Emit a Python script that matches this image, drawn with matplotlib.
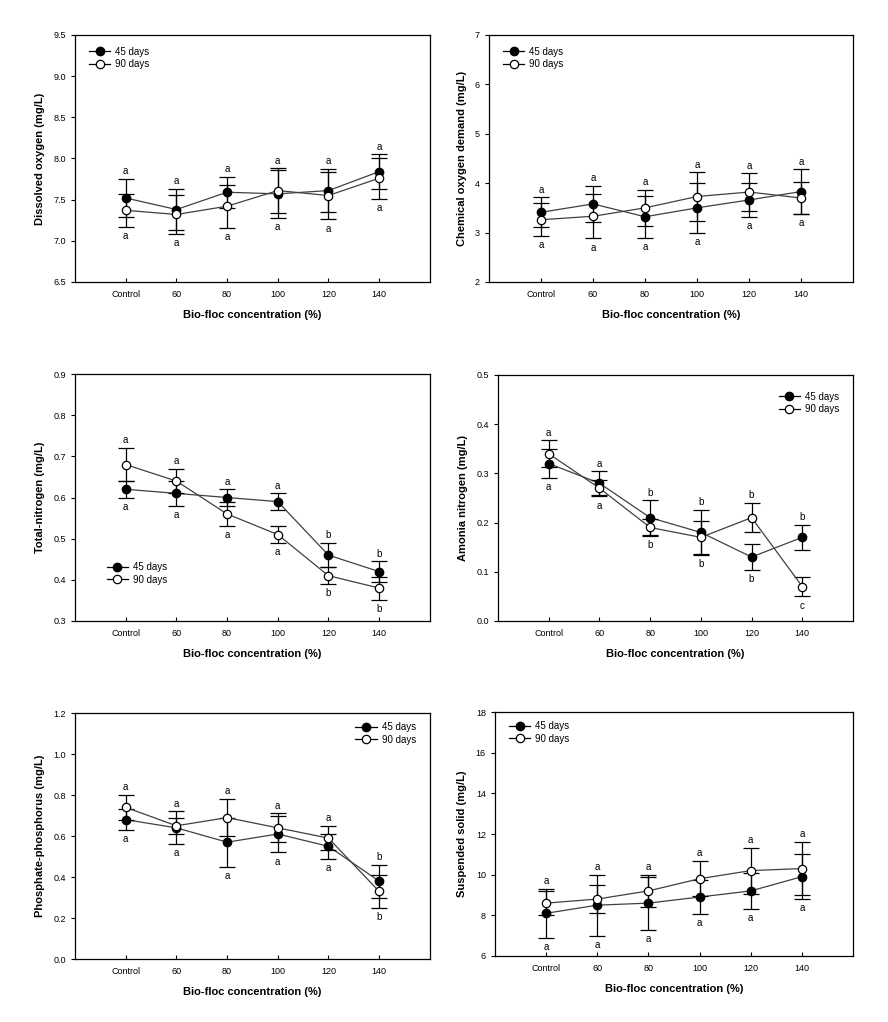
import numpy as np
from matplotlib import pyplot as plt
from matplotlib.lines import Line2D

plt.rcParams['font.family'] = ['Liberation Sans', 'DejaVu Sans']

cats = ['Control', '60', '80', '100', '120', '140']

# dissolved oxygen
do_45 = [7.52, 7.38, 7.59, 7.57, 7.61, 7.84]
do_45_err = [0.23, 0.25, 0.19, 0.29, 0.26, 0.21]
do_90 = [7.37, 7.32, 7.42, 7.61, 7.55, 7.76]
do_90_err = [0.20, 0.24, 0.26, 0.27, 0.29, 0.25]
do_top = ['a', 'a', 'a', 'a', 'a', 'a']
do_bot = ['a', 'a', 'a', 'a', 'a', 'a']

# chemical oxygen demand
cod_45 = [3.41, 3.58, 3.32, 3.50, 3.66, 3.83]
cod_45_err = [0.30, 0.36, 0.42, 0.50, 0.34, 0.45]
cod_90 = [3.26, 3.33, 3.50, 3.73, 3.82, 3.70]
cod_90_err = [0.33, 0.45, 0.36, 0.49, 0.38, 0.33]
cod_top = ['a', 'a', 'a', 'a', 'a', 'a']
cod_bot = ['a', 'a', 'a', 'a', 'a', 'a']

# total nitrogen
tn_45 = [0.62, 0.61, 0.60, 0.59, 0.46, 0.42]
tn_45_err = [0.02, 0.03, 0.02, 0.02, 0.03, 0.025]
tn_90 = [0.68, 0.64, 0.56, 0.51, 0.41, 0.38]
tn_90_err = [0.04, 0.03, 0.03, 0.02, 0.02, 0.028]
tn_top = ['a', 'a', 'a', 'a', 'b', 'b']
tn_bot = ['a', 'a', 'a', 'a', 'b', 'b']

# ammonia nitrogen
an_45 = [0.32, 0.28, 0.21, 0.18, 0.13, 0.17]
an_45_err = [0.03, 0.024, 0.035, 0.045, 0.027, 0.025]
an_90 = [0.34, 0.27, 0.19, 0.17, 0.21, 0.07]
an_90_err = [0.027, 0.017, 0.017, 0.033, 0.03, 0.02]
an_top = ['a', 'a', 'b', 'b', 'b', 'b']
an_bot = ['a', 'a', 'b', 'b', 'b', 'c']

# phosphate-phosphorus
ph_45 = [0.68, 0.64, 0.57, 0.61, 0.55, 0.38]
ph_45_err = [0.05, 0.08, 0.12, 0.09, 0.06, 0.08]
ph_90 = [0.74, 0.65, 0.69, 0.64, 0.59, 0.33]
ph_90_err = [0.06, 0.04, 0.09, 0.07, 0.06, 0.08]
ph_top = ['a', 'a', 'a', 'a', 'a', 'b']
ph_bot = ['a', 'a', 'a', 'a', 'a', 'b']

# suspended solid
ss_45 = [8.1, 8.5, 8.6, 8.9, 9.2, 9.9]
ss_45_err = [1.2, 1.5, 1.3, 0.83, 0.87, 1.1]
ss_90 = [8.6, 8.8, 9.2, 9.8, 10.2, 10.3]
ss_90_err = [0.6, 0.7, 0.8, 0.87, 1.13, 1.3]
ss_top = ['a', 'a', 'a', 'a', 'a', 'a']
ss_bot = ['a', 'a', 'a', 'a', 'a', 'a']


def panel(rect, y45, e45, y90, e90, top, bot, ylab, ylim, yticks, yfmt, legloc, legbox):
  ax = fig.add_axes(rect)
  x = np.arange(len(cats))
  ax.errorbar(x, y45, yerr=e45, color='#404040', lw=0.9, ecolor='k', elinewidth=0.9,
              capsize=6, capthick=0.9, marker='o', ms=6, mfc='k', mec='k', zorder=3)
  ax.errorbar(x, y90, yerr=e90, color='#404040', lw=0.9, ecolor='k', elinewidth=0.9,
              capsize=6, capthick=0.9, marker='o', ms=6, mfc='white', mec='k', mew=0.9,
              zorder=4)
  hi = np.maximum(np.array(y45) + np.array(e45), np.array(y90) + np.array(e90))
  lo = np.minimum(np.array(y45) - np.array(e45), np.array(y90) - np.array(e90))
  for i in range(len(cats)):
    ax.annotate(top[i], (x[i], hi[i]), xytext=(0, 2), textcoords='offset points',
                ha='center', va='bottom', fontsize=7)
    ax.annotate(bot[i], (x[i], lo[i]), xytext=(0, -3), textcoords='offset points',
                ha='center', va='top', fontsize=7)
  ax.set_xlim(-1, 6)
  ax.set_ylim(*ylim)
  ax.set_xticks(x)
  ax.set_xticklabels(cats)
  ax.set_yticks(yticks)
  ax.set_yticklabels([yfmt % v for v in yticks])
  ax.tick_params(axis='x', direction='in', length=3, labelsize=6.5, pad=6)
  ax.tick_params(axis='y', direction='out', length=3, labelsize=6.5)
  for s in ax.spines.values():
    s.set_linewidth(0.9)
  ax.set_xlabel('Bio-floc concentration (%)', fontsize=8, fontweight='bold', labelpad=8)
  ax.set_ylabel(ylab, fontsize=8, fontweight='bold', labelpad=6)
  h45 = Line2D([], [], color='k', lw=0.9, marker='o', ms=6, mfc='k', mec='k')
  h90 = Line2D([], [], color='k', lw=0.9, marker='o', ms=6, mfc='white', mec='k', mew=0.9)
  ax.legend([h45, h90], ['45 days', '90 days'], loc=legloc, bbox_to_anchor=legbox,
            frameon=False, fontsize=7, handlelength=2.2, handletextpad=0.5,
            labelspacing=0.25, borderaxespad=0.3)
  return ax


fig = plt.figure(figsize=[8.88, 10.22], dpi=100)

panel([0.0845, 0.7241, 0.3995, 0.2417], do_45, do_45_err, do_90, do_90_err, do_top, do_bot,
      'Dissolved oxygen (mg/L)', (6.5, 9.5), np.arange(6.5, 9.51, 0.5), '%.1f',
      'upper left', (0.02, 0.98))
panel([0.5507, 0.7241, 0.4099, 0.2417], cod_45, cod_45_err, cod_90, cod_90_err, cod_top, cod_bot,
      'Chemical oxygen demand (mg/L)', (2, 7), np.arange(2, 8, 1), '%d',
      'upper left', (0.02, 0.98))
panel([0.0845, 0.3924, 0.3995, 0.2416], tn_45, tn_45_err, tn_90, tn_90_err, tn_top, tn_bot,
      'Total-nitrogen (mg/L)', (0.3, 0.9), np.arange(0.3, 0.91, 0.1), '%.1f',
      'lower left', (0.07, 0.12))
panel([0.5608, 0.3924, 0.3998, 0.2407], an_45, an_45_err, an_90, an_90_err, an_top, an_bot,
      'Amonia nitrogen (mg/L)', (0.0, 0.5), np.arange(0.0, 0.51, 0.1), '%.1f',
      'upper right', (0.98, 0.96))
panel([0.0845, 0.0616, 0.3995, 0.2407], ph_45, ph_45_err, ph_90, ph_90_err, ph_top, ph_bot,
      'Phosphate-phosphorus (mg/L)', (0.0, 1.2), np.arange(0.0, 1.21, 0.2), '%.1f',
      'upper right', (0.98, 0.99))
panel([0.5574, 0.0646, 0.4032, 0.2387], ss_45, ss_45_err, ss_90, ss_90_err, ss_top, ss_bot,
      'Suspended solid (mg/L)', (6, 18), np.arange(6, 19, 2), '%d',
      'upper left', (0.02, 0.99))

plt.savefig('out.png', dpi=100)
